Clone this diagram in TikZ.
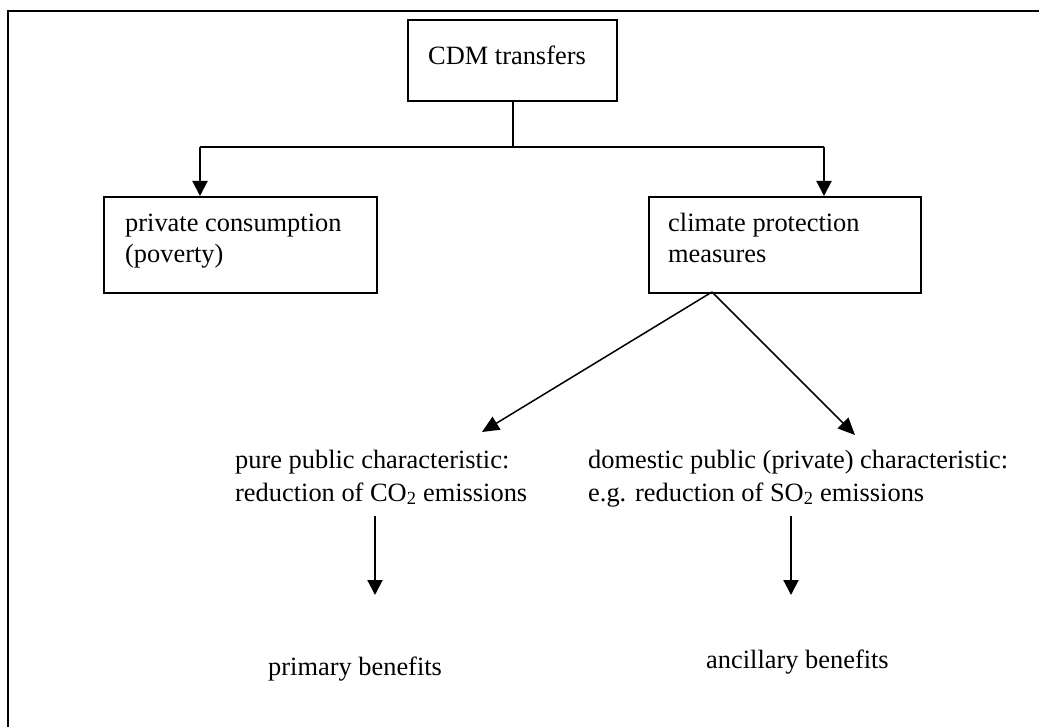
\documentclass[tikz,border=0pt]{standalone}
\usepackage{fontspec}
\setmainfont{Liberation Serif}
\usetikzlibrary{arrows.meta}
\begin{document}
\begin{tikzpicture}[x=1pt,y=-1pt,
  box/.style={draw, line width=2pt, inner sep=0pt, anchor=north west},
  txt/.style={anchor=base west, inner sep=0pt, font=\fontsize{26.4}{31}\selectfont},
  conn/.style={line width=2pt},
  arr/.style={line width=2pt, -{Triangle[width=15pt,length=15pt]}},
  diag/.style={line width=1.5pt, -{Triangle[width=15pt,length=17pt]}}]
\useasboundingbox (0,0) rectangle (1039,727);
\draw[line width=2pt] (8,727) -- (8,11) -- (1039,11);
% boxes
\node[box, minimum width=209pt, minimum height=81pt] (cdm) at (407,19) {};
\node[box, minimum width=273pt, minimum height=96pt] (lbox) at (103,196) {};
\node[box, minimum width=272pt, minimum height=96pt] (rbox) at (648,196) {};
% texts
\node[txt] (t0) at (428,65) {CDM transfers};
\node[txt] (t1a) at (125,232) {private consumption};
\node[txt] (t1b) at (125,263) {(poverty)};
\node[txt] (t2a) at (668,232) {climate protection};
\node[txt] (t2b) at (668,263) {measures};
\node[txt] (t3a) at (235,468) {pure public characteristic:};
\node[txt] (t3b) at (235,501) {reduction of CO\textsubscript{2} emissions};
\node[txt] (t4a) at (588,468) {domestic public (private) characteristic:};
\node[txt] (t4b) at (588,501) {e.g. reduction of SO\textsubscript{2} emissions};
\node[txt] (t5) at (268,675) {primary benefits};
\node[txt] (t6) at (706,668) {ancillary benefits};
% connectors
\coordinate (jl) at (200,147);
\coordinate (jr) at (824,147);
\coordinate (jm) at (cdm.south |- jl);
\draw[conn] (cdm.south) -- (jm);
\draw[conn] (jl) -- (jr);
\draw[arr] (jl) -- (jl |- lbox.north);
\draw[arr] (jr) -- (jr |- rbox.north);
\coordinate (d0) at (712,292);
\coordinate (d1) at (482,432);
\coordinate (d2) at (855,435);
\draw[diag] (d0) -- (d1);
\draw[diag] (d0) -- (d2);
\coordinate (a1s) at (375,516);
\coordinate (a1e) at (375,595);
\coordinate (a2s) at (791,516);
\coordinate (a2e) at (791,595);
\draw[arr] (a1s) -- (a1e);
\draw[arr] (a2s) -- (a2e);
\end{tikzpicture}
\end{document}
